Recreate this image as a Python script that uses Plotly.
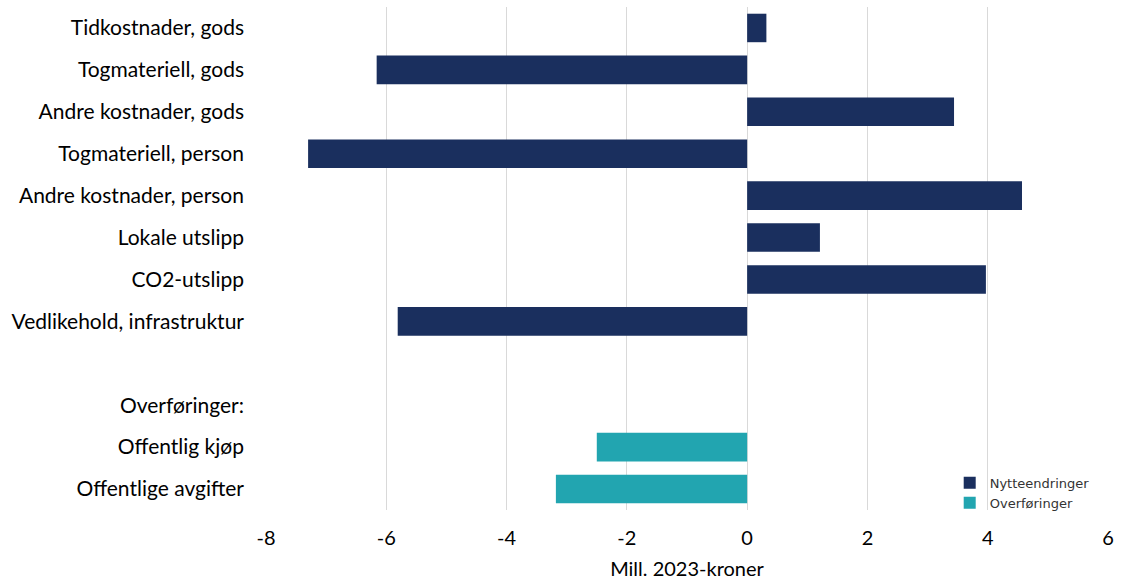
import plotly.graph_objects as go

# Rows from top to bottom; " " is a spacer row between the two groups
categories = [
    "Tidkostnader, gods",
    "Togmateriell, gods",
    "Andre kostnader, gods",
    "Togmateriell, person",
    "Andre kostnader, person",
    "Lokale utslipp",
    "CO2-utslipp",
    "Vedlikehold, infrastruktur",
    " ",
    "Overføringer:",
    "Offentlig kjøp",
    "Offentlige avgifter",
]

nytte_cats = categories[:8]
nytte_vals = [0.32, -6.16, 3.44, -7.30, 4.57, 1.21, 3.97, -5.81]

overf_cats = ["Offentlig kjøp", "Offentlige avgifter"]
overf_vals = [-2.50, -3.18]

x_ticks = [-8, -6, -4, -2, 0, 2, 4, 6]

NAVY = "#1A2F5E"
TEAL = "#22A5B0"
FONT = "Lato, Carlito, Calibri, sans-serif"

fig = go.Figure()
fig.add_trace(go.Bar(
    y=nytte_cats, x=nytte_vals, orientation="h", name="Nytteendringer",
    marker=dict(color=NAVY, line=dict(width=0)), width=0.68,
))
fig.add_trace(go.Bar(
    y=overf_cats, x=overf_vals, orientation="h", name="Overføringer",
    marker=dict(color=TEAL, line=dict(width=0)), width=0.68,
))

fig.update_layout(
    width=1121, height=583,
    margin=dict(l=266, r=9, t=7, b=72),
    paper_bgcolor="white", plot_bgcolor="white",
    barmode="overlay",
    font=dict(family=FONT, size=20, color="#000000"),
    legend=dict(
        x=0.812, y=0.034, xanchor="left", yanchor="middle",
        font=dict(family="DejaVu Sans", size=13, color="#333333"),
        bgcolor="rgba(255,255,255,0)", tracegroupgap=6,
    ),
    xaxis=dict(
        range=[-8, 6], tickvals=x_ticks, ticktext=[str(v) for v in x_ticks],
        showgrid=True, gridcolor="#D9D9D9", gridwidth=1,
        zeroline=True, zerolinecolor="#D9D9D9", zerolinewidth=1,
        showline=False, ticks="", ticklen=0, ticklabelstandoff=14,
        tickfont=dict(family=FONT, size=20),
        title=dict(text="Mill. 2023-kroner", font=dict(family=FONT, size=20), standoff=13),
    ),
    yaxis=dict(
        categoryorder="array", categoryarray=categories[::-1],
        tickvals=categories, showgrid=False, zeroline=False, showline=False,
        ticks="", ticklabelstandoff=21,
        tickfont=dict(family=FONT, size=21),
    ),
)

fig.write_html("out.html")
